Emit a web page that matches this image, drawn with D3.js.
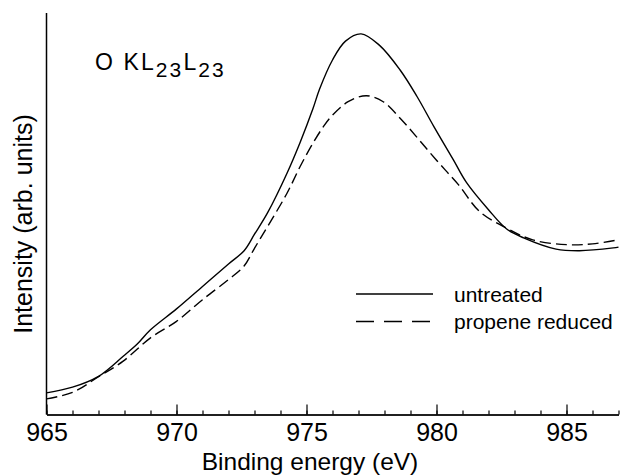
<!DOCTYPE html>
<html>
<head>
<meta charset="utf-8">
<script src="https://cdn.jsdelivr.net/npm/d3@7"></script>
<style>
  body { margin: 0; background: #fff; }
  text { font-family: "Liberation Sans", Arial, sans-serif; fill: #000; }
</style>
</head>
<body>
<div id="canvas"></div>
<script>
// binding energy (eV) and intensity (arb. units, 0-100)
let energyUntreated = [965.0, 966.0, 967.0, 967.95, 968.5, 969.0, 970.0, 971.0, 972.0, 972.6, 973.0, 973.5, 974.25,
    974.75, 975.25, 975.5, 976.0, 976.5, 977.1, 977.8, 978.6, 979.25, 979.9, 980.65, 981.15, 982.0,
    982.7, 983.35, 984.6, 985.5, 986.8, 987.0];
let intensityUntreated = [5.4, 6.8, 9.5, 14.5, 17.6, 21.1, 26.3, 31.9, 37.5, 40.8, 44.9, 50.2, 60.1,
    67.7, 76.2, 81.0, 88.3, 93.0, 94.8, 92.0, 85.8, 79.2, 71.7, 63.4, 57.8, 51.0,
    46.2, 44.0, 41.2, 40.8, 41.5, 41.7];

let energyReduced = [965.0, 966.0, 967.0, 967.95, 969.0, 970.0, 971.0, 972.0, 972.6, 973.0, 973.5, 974.25, 974.75,
    975.25, 975.65, 975.95, 976.6, 977.3, 977.95, 978.6, 979.2, 979.75, 980.35, 980.85, 981.65,
    982.7, 983.7, 985.0, 986.0, 987.0];
let intensityReduced = [3.9, 5.5, 9.4, 13.3, 19.1, 23.2, 28.6, 33.6, 37.0, 41.4, 46.8, 55.1, 61.7,
    67.6, 71.7, 74.2, 77.9, 79.4, 77.9, 73.8, 69.4, 65.2, 60.8, 57.2, 50.6,
    46.4, 43.5, 42.3, 42.5, 43.5];

let majorTicks = [965, 970, 975, 980, 985];
let minorTicks = d3.range(965, 988, 1);
let legendLabels = ["untreated", "propene reduced"];

const width = 620, height = 475;

const svg = d3.select("#canvas")
    .append("svg")
    .attr("width", width)
    .attr("height", height);

const x = d3.scaleLinear().domain([965, 987]).range([46.5, 618.5]);
const y = d3.scaleLinear().domain([0, 100]).range([414.5, 13]);

// axes
svg.append("line")
    .attr("x1", x(965)).attr("x2", x(965))
    .attr("y1", y(100)).attr("y2", y(0))
    .attr("stroke", "#000").attr("stroke-width", 1.5);

svg.append("g")
    .attr("transform", `translate(0,${y(0)})`)
    .call(d3.axisBottom(x).tickValues(minorTicks).tickFormat("").tickSizeInner(-4).tickSizeOuter(0))
    .call(g => g.selectAll("line").attr("stroke-width", 1.2));

svg.append("g")
    .attr("transform", `translate(0,${y(0)})`)
    .call(d3.axisBottom(x).tickValues(majorTicks).tickFormat(d3.format("d"))
        .tickSizeInner(-10).tickSizeOuter(0).tickPadding(9))
    .call(g => g.select(".domain").attr("stroke-width", 1.5))
    .call(g => g.selectAll("line").attr("stroke-width", 1.2))
    .call(g => g.selectAll("text")
        .attr("font-family", "'Liberation Sans', Arial, sans-serif")
        .attr("font-size", 25));

svg.append("text")
    .attr("x", 310).attr("y", 470)
    .attr("text-anchor", "middle")
    .attr("font-size", 24.5)
    .text("Binding energy (eV)");

svg.append("text")
    .attr("transform", "translate(32,224) rotate(-90)")
    .attr("text-anchor", "middle")
    .attr("font-size", 25)
    .text("Intensity (arb. units)");

// title with subscripts
let title = svg.append("text")
    .attr("x", 95).attr("y", 69.5)
    .attr("font-size", 23)
    .attr("letter-spacing", 2.1);
title.append("tspan").text("O KL");
title.append("tspan").attr("dy", 7).attr("font-size", 21).text("23");
title.append("tspan").attr("dy", -7).text("L");
title.append("tspan").attr("dy", 7).attr("font-size", 21).text("23");

// curves
const line = d3.line()
    .x(d => x(d[0]))
    .y(d => y(d[1]))
    .curve(d3.curveCatmullRom);

svg.append("path")
    .datum(d3.zip(energyUntreated, intensityUntreated))
    .attr("fill", "none")
    .attr("stroke", "#000")
    .attr("stroke-width", 1.4)
    .attr("d", line);

svg.append("path")
    .datum(d3.zip(energyReduced, intensityReduced))
    .attr("fill", "none")
    .attr("stroke", "#000")
    .attr("stroke-width", 1.4)
    .attr("stroke-dasharray", "11,5")
    .attr("d", line);

// legend
let legend = svg.append("g").selectAll("g")
    .data(legendLabels)
    .join("g")
    .attr("transform", (d, i) => `translate(356,${294 + i * 27.5})`);

legend.append("line")
    .attr("x1", 0).attr("x2", 77)
    .attr("stroke", "#000")
    .attr("stroke-width", 1.4)
    .attr("stroke-dasharray", (d, i) => i ? "18,10" : null);

legend.append("text")
    .attr("x", 98).attr("y", 7.5)
    .attr("font-size", 21)
    .text(d => d);
</script>
</body>
</html>
